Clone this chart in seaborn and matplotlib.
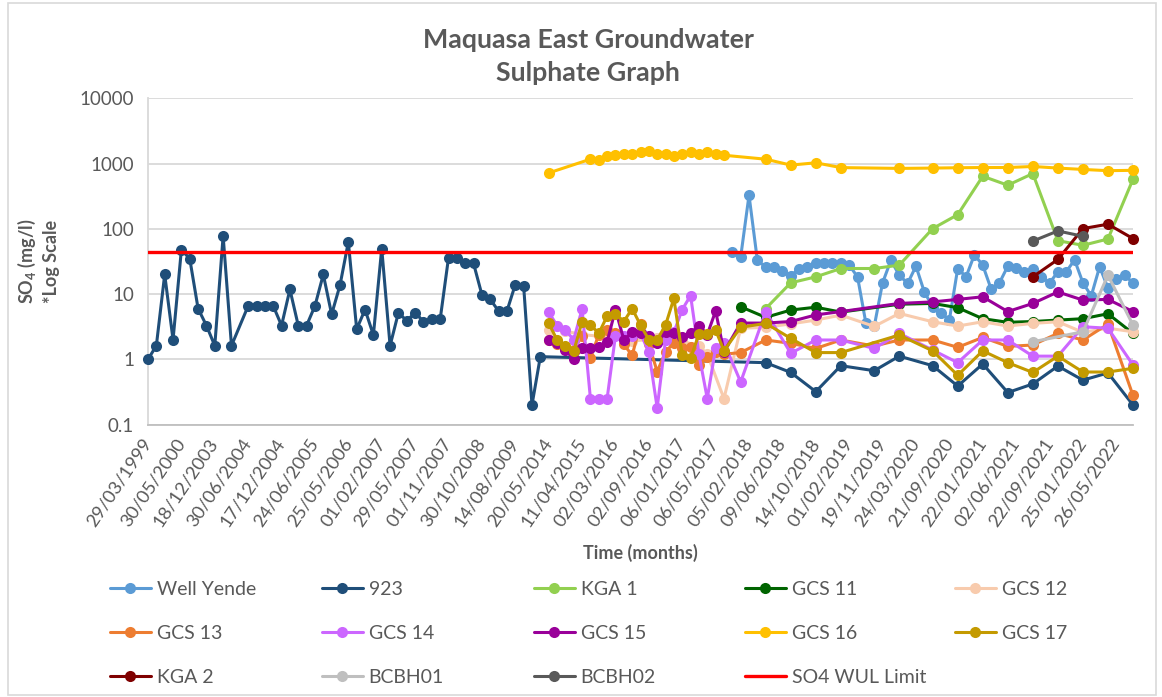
import numpy as np
import matplotlib
matplotlib.use("Agg")
import matplotlib.pyplot as plt
from matplotlib.patches import Rectangle
from matplotlib.ticker import FixedLocator, FuncFormatter, NullLocator
import seaborn as sns

# ---- category axis: 119 sampling rounds, every 4th round is labelled ----
N_CAT = 119
tick_dates = [
    "29/03/1999", "30/05/2000", "18/12/2003", "30/06/2004", "17/12/2004",
    "24/06/2005", "25/05/2006", "01/02/2007", "29/05/2007", "01/11/2007",
    "30/10/2008", "14/08/2009", "20/05/2014", "11/04/2015", "02/03/2016",
    "02/09/2016", "06/01/2017", "06/05/2017", "05/02/2018", "09/06/2018",
    "14/10/2018", "01/02/2019", "19/11/2019", "24/03/2020", "21/09/2020",
    "22/01/2021", "02/06/2021", "22/09/2021", "25/01/2022", "26/05/2022",
]
label_step = 4

# ---- SO4 (mg/l) per borehole: sampling-round index and measured value ----
yende_x = list(range(70, 119))
yende_y = [44, 37, 328, 33, 26, 26, 23, 19, 24.7, 25.6, 30, 29.5, 29.5, 29.5,
           27.8, 18.4, 3.6, 3.2, 14.9, 33, 19.5, 14.6, 26.8, 10.8, 6.4, 5.2,
           4.0, 24.7, 18.4, 40, 27.8, 12, 14.9, 26.8, 25, 21.5, 24.7, 18.6,
           14.8, 22, 22, 33.5, 14.9, 9.4, 26.2, 12.5, 17, 19.5, 14.8]

b923_x = [0, 1, 2, 3, 4, 5, 6, 7, 8, 9, 10, 12, 13, 14, 15, 16, 17, 18, 19,
          20, 21, 22, 23, 24, 25, 26, 27, 28, 29, 30, 31, 32, 33, 34, 35, 36,
          37, 38, 39, 40, 41, 42, 43, 44, 45, 46, 47,
          74, 77, 80, 83, 87, 90, 94, 97, 100, 103, 106, 109, 112, 115, 118]
b923_y = [1.0, 1.62, 20, 2.0, 48, 35, 6.0, 3.3, 1.62, 78, 1.62, 6.6, 6.6, 6.6,
          6.6, 3.3, 11.8, 3.3, 3.3, 6.6, 20, 4.9, 13.7, 63, 2.9, 5.8, 2.36, 50,
          1.62, 5.2, 3.9, 5.2, 3.8, 4.1, 4.1, 36, 36, 29.5, 29.5, 9.8, 8.3,
          5.5, 5.5, 14, 13.4, 0.2, 1.1,
          0.89, 0.63, 0.32, 0.80, 0.67, 1.12, 0.80, 0.39, 0.85, 0.31, 0.42,
          0.79, 0.48, 0.62, 0.20]

kga1_x = [74, 77, 80, 83, 87, 90, 94, 97, 100, 103, 106, 109, 112, 115, 118]
kga1_y = [6.0, 14.9, 18.4, 24.7, 24.7, 27.8, 101, 165, 641, 467, 705, 66, 56,
          70, 577]

gcs11_x = [71, 74, 77, 80, 83, 90, 94, 97, 100, 103, 106, 109, 112, 115, 118]
gcs11_y = [6.4, 4.4, 5.7, 6.3, 5.3, 7.0, 7.2, 6.2, 4.2, 3.7, 3.8, 4.0, 4.2,
           5.0, 2.5]

gcs12_x = [48, 49, 50, 52, 55, 58, 61, 64, 66, 67, 69, 71, 74, 77, 80, 83, 87,
           90, 94, 97, 100, 103, 106, 109, 112, 115, 118]
gcs12_y = [2.8, 3.2, 2.7, 2.4, 2.2, 1.9, 2.1, 1.9, 1.6, 1.2, 0.25, 3.0, 3.1,
           3.5, 4.0, 4.77, 3.2, 5.06, 3.77, 3.24, 3.77, 3.24, 3.56, 3.77, 2.6,
           3.0, 2.65]

gcs13_x = [48, 49, 50, 51, 52, 53, 54, 55, 56, 57, 58, 59, 60, 61, 62, 63, 64,
           65, 66, 67, 68, 69, 71, 74, 77, 80, 83, 87, 90, 94, 97, 100, 103,
           106, 109, 112, 115, 118]
gcs13_y = [2.0, 1.7, 1.5, 1.4, 2.3, 1.05, 2.4, 2.8, 2.5, 1.7, 1.15, 3.5, 1.7,
           0.65, 1.3, 1.8, 1.5, 1.55, 0.82, 1.1, 1.3, 1.2, 1.27, 1.98, 1.76,
           1.47, 1.98, 1.6, 1.98, 1.98, 1.53, 2.17, 1.58, 1.66, 2.5, 1.98,
           3.47, 0.28]

gcs14_x = [48, 49, 50, 51, 52, 53, 54, 55, 56, 57, 58, 59, 60, 61, 62, 63, 64,
           65, 66, 67, 68, 69, 71, 74, 77, 80, 83, 87, 90, 94, 97, 100, 103,
           106, 109, 112, 115, 118]
gcs14_y = [5.3, 3.3, 2.8, 2.0, 5.9, 0.25, 0.25, 0.25, 2.3, 2.3, 2.3, 2.5, 1.3,
           0.18, 2.0, 2.6, 5.8, 9.5, 1.2, 0.25, 1.5, 1.8, 0.45, 5.4, 1.24,
           1.98, 1.98, 1.47, 2.5, 1.39, 0.89, 1.98, 1.98, 1.12, 1.12, 3.16,
           3.0, 0.82]

gcs15_x = [48, 49, 50, 51, 52, 53, 54, 55, 56, 57, 58, 59, 60, 61, 62, 63, 64,
           65, 66, 67, 68, 69, 71, 74, 77, 80, 83, 90, 94, 97, 100, 103, 106,
           109, 112, 115, 118]
gcs15_y = [2.0, 1.8, 1.4, 1.0, 1.47, 1.47, 1.56, 1.86, 5.8, 2.0, 2.6, 2.5, 2.3,
           1.8, 2.6, 2.5, 2.2, 2.5, 3.3, 2.4, 5.5, 1.3, 3.6, 3.6, 3.8, 4.8,
           5.4, 7.2, 7.6, 8.3, 9.1, 5.4, 7.2, 10.8, 8.1, 8.3, 5.4]

gcs16_x = [48, 53, 54, 55, 56, 57, 58, 59, 60, 61, 62, 63, 64, 65, 66, 67, 68,
           69, 74, 77, 80, 83, 90, 94, 97, 100, 103, 106, 109, 112, 115, 118]
gcs16_y = [720, 1170, 1130, 1300, 1345, 1430, 1430, 1510, 1570, 1390, 1430,
           1310, 1390, 1510, 1390, 1510, 1430, 1345, 1170, 950, 1030, 870,
           845, 855, 865, 872, 872, 905, 855, 815, 780, 790]

gcs17_x = [48, 49, 50, 51, 52, 53, 54, 55, 56, 57, 58, 59, 60, 61, 62, 63, 64,
           65, 66, 67, 68, 69, 71, 74, 77, 80, 83, 90, 94, 97, 100, 103, 106,
           109, 112, 115, 118]
gcs17_y = [3.56, 2.0, 1.6, 1.34, 3.77, 3.4, 2.5, 4.6, 5.0, 3.8, 6.0, 3.35, 2.0,
           2.0, 3.35, 8.6, 1.16, 1.04, 2.44, 2.44, 2.8, 1.36, 3.1, 3.56, 2.1,
           1.27, 1.27, 2.36, 1.35, 0.57, 1.35, 0.89, 0.63, 1.12, 0.64, 0.64,
           0.73]

kga2_x = [106, 109, 112, 115, 118]
kga2_y = [18.4, 34, 101, 118, 71]

bcbh01_x = [106, 112, 115, 118]
bcbh01_y = [1.86, 2.65, 19.5, 3.35]

bcbh02_x = [106, 109, 112]
bcbh02_y = [65, 93, 77]

wul_limit = 45  # SO4 water-use-licence limit, mg/l

series = [
    ("Well Yende", "#5B9BD5", yende_x, yende_y),
    ("923", "#1F4E79", b923_x, b923_y),
    ("KGA 1", "#92D050", kga1_x, kga1_y),
    ("GCS 11", "#006400", gcs11_x, gcs11_y),
    ("GCS 12", "#F8CBAD", gcs12_x, gcs12_y),
    ("GCS 13", "#ED7D31", gcs13_x, gcs13_y),
    ("GCS 14", "#CC66FF", gcs14_x, gcs14_y),
    ("GCS 15", "#990099", gcs15_x, gcs15_y),
    ("GCS 16", "#FFC000", gcs16_x, gcs16_y),
    ("GCS 17", "#C49A00", gcs17_x, gcs17_y),
    ("KGA 2", "#7F0000", kga2_x, kga2_y),
    ("BCBH01", "#BFBFBF", bcbh01_x, bcbh01_y),
    ("BCBH02", "#595959", bcbh02_x, bcbh02_y),
]

sns.set_theme(style="white")
plt.rcParams["font.family"] = ["Lato", "DejaVu Sans"]
plt.rcParams["mathtext.fontset"] = "custom"
plt.rcParams["mathtext.rm"] = "Lato"
plt.rcParams["mathtext.bf"] = "Lato:bold"

TXT = "#595959"
W, H = 1162, 697
fig = plt.figure(figsize=(W / 100, H / 100), dpi=100)
fig.patch.set_facecolor("white")
ax = fig.add_axes([148 / W, 1 - 424.6 / H, (1133 - 148) / W, (424.6 - 98.4) / H])

for i, (name, color, xs, ys) in enumerate(series):
    sns.lineplot(x=xs, y=ys, ax=ax, color=color, marker="o", markersize=8,
                 markeredgewidth=0, linewidth=2.2, label=name, clip_on=False,
                 zorder=3 + i * 0.1)

sns.lineplot(x=[0, N_CAT - 1], y=[wul_limit, wul_limit], ax=ax, color="#FF0000",
             linewidth=2.4, label="SO4 WUL Limit", zorder=5)

ax.set_yscale("log")
ax.set_ylim(0.1, 10000)
ax.set_xlim(0, N_CAT - 1)
ax.yaxis.set_major_locator(FixedLocator([0.1, 1, 10, 100, 1000, 10000]))
ax.yaxis.set_minor_locator(NullLocator())
ax.yaxis.set_major_formatter(FuncFormatter(lambda v, p: f"{v:g}"))
ax.grid(axis="y", color="#D9D9D9", linewidth=1.3)
ax.grid(axis="x", visible=False)
ax.set_axisbelow(True)

ax.set_xticks(np.arange(N_CAT))
xlabels = [tick_dates[i // label_step] if i % label_step == 0 else ""
           for i in range(N_CAT)]
ax.set_xticklabels(xlabels, rotation=56, ha="right", va="center",
                   rotation_mode="anchor")
ax.tick_params(axis="x", direction="out", length=4, width=1, color="#BFBFBF",
               pad=7, labelsize=13.3, labelcolor=TXT)
ax.tick_params(axis="y", length=0, pad=10, labelsize=13.5, labelcolor=TXT)

for s in ("top", "right"):
    ax.spines[s].set_visible(False)
ax.spines["left"].set_color("#D9D9D9")
ax.spines["left"].set_linewidth(1.3)
ax.spines["bottom"].set_color("#BFBFBF")
ax.spines["bottom"].set_linewidth(1.3)
ax.set_xlabel("")
ax.set_ylabel("")

# titles
fig.text(588 / W, 1 - 40 / H, "Maquasa East Groundwater", ha="center",
         va="center", fontsize=19.3, fontweight="bold", color=TXT)
fig.text(588 / W, 1 - 73 / H, "Sulphate Graph", ha="center", va="center",
         fontsize=19.3, fontweight="bold", color=TXT)
fig.text(640 / W, 1 - 553 / H, "Time (months)", ha="center", va="center",
         fontsize=13, fontweight="bold", color=TXT)
fig.text(27 / W, 1 - 261 / H, r"$\mathbf{SO_4}$ (mg/l)", ha="center",
         va="center", rotation=90, fontsize=13, fontweight="bold", color=TXT)
fig.text(51 / W, 1 - 261 / H, "*Log Scale", ha="center", va="center",
         rotation=90, fontsize=13, fontweight="bold", color=TXT)

# legend: five columns laid out row-wise
handles, labels = ax.get_legend_handles_labels()
if ax.get_legend() is not None:
    ax.get_legend().remove()
col_x = [110, 322, 534, 745, 955]
for c in range(5):
    idx = list(range(c, len(handles), 5))
    fig.legend([handles[k] for k in idx], [labels[k] for k in idx],
               loc="upper left", bbox_to_anchor=(col_x[c] / W, 1 - 581 / H),
               frameon=False, fontsize=14, handlelength=2.1,
               handletextpad=0.3, borderpad=0, borderaxespad=0,
               labelspacing=1.38, labelcolor=TXT)

# chart area border
fig.patches.append(Rectangle((8 / W, 2 / H), 1 - 14 / W, 1 - 5 / H,
                             transform=fig.transFigure, fill=False,
                             edgecolor="#D9D9D9", linewidth=1.2))

fig.savefig("out.png", dpi=100)
